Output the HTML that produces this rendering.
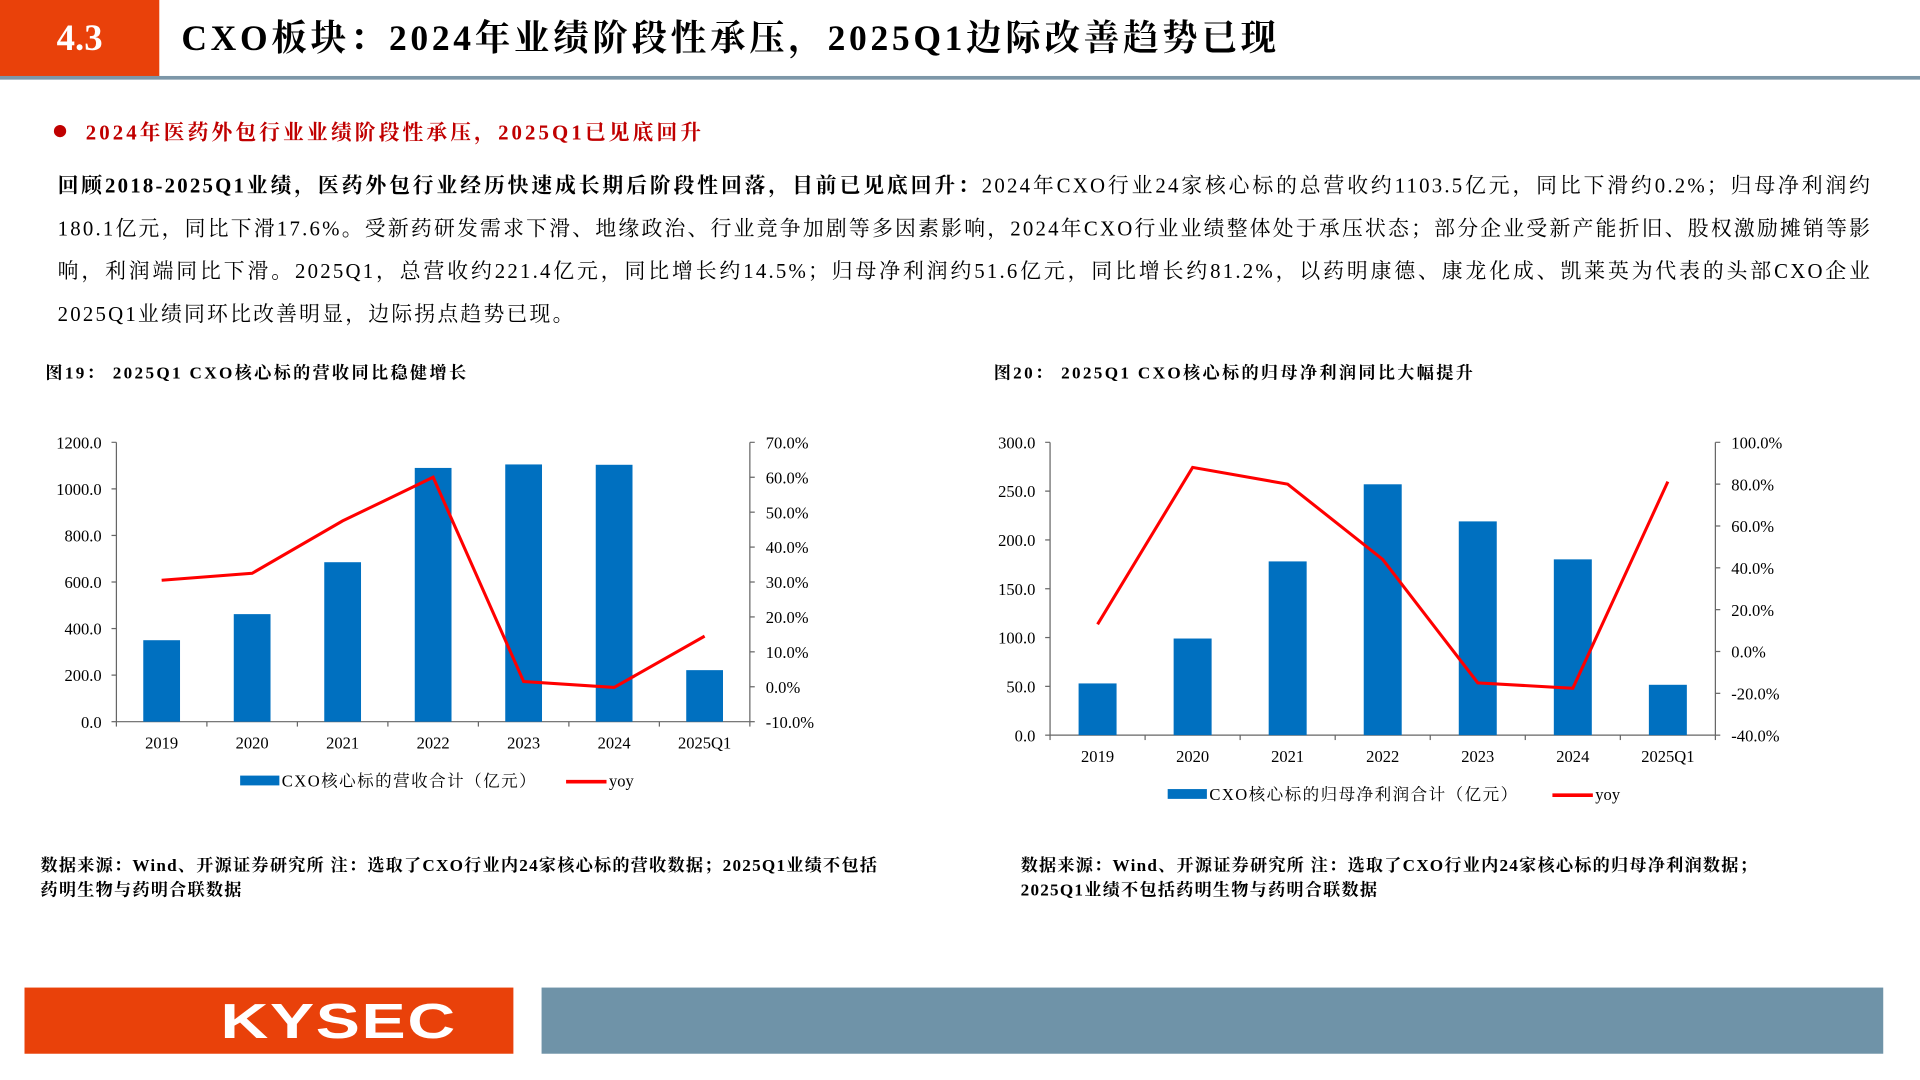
<!DOCTYPE html>
<html><head><meta charset="utf-8">
<style>
html,body{margin:0;padding:0;background:#fff;width:1920px;height:1080px;overflow:hidden}
#wrap{position:absolute;left:0;top:0;width:1567px;height:881px;transform:scale(1.22527);transform-origin:0 0;font-family:"Liberation Serif","Noto Serif CJK SC",serif;color:#000}
.abs{position:absolute}
#hdr-box{left:0;top:0;width:130px;height:63px;background:#e9410a;color:#fff;font-size:30px;font-weight:bold;line-height:63px;text-align:center}
#hdr-title{left:148px;top:12px;font-size:29px;font-weight:bold;white-space:nowrap;line-height:40px;letter-spacing:3px}
#hdr-line{left:0;top:62px;width:1567px;height:3px;background:#7d97a8}
#bullet{left:44px;top:102px;width:10px;height:10px;border-radius:50%;background:#c00000}
#sub{left:70px;top:94px;font-size:17px;font-weight:bold;color:#c00000;white-space:nowrap;letter-spacing:2.5px}
#para{left:47px;top:134px;width:1481px;font-size:17px;line-height:35px;text-align:justify;text-align-last:left;letter-spacing:1.8px}
.ct{font-size:14px;font-weight:bold;white-space:nowrap;letter-spacing:1.9px}
.src{font-size:14px;font-weight:bold;line-height:20px;letter-spacing:1px}
svg text{font-family:"Liberation Serif","Noto Serif CJK SC",serif;font-size:13.5px;fill:#000}
</style></head><body>
<div id="wrap">
<div id="hdr-box" class="abs">4.3</div>
<div id="hdr-title" class="abs">CXO板块：2024年业绩阶段性承压，2025Q1边际改善趋势已现</div>
<div id="hdr-line" class="abs"></div>
<div id="bullet" class="abs"></div>
<div id="sub" class="abs">2024年医药外包行业业绩阶段性承压，2025Q1已见底回升</div>
<div id="para" class="abs"><b>回顾2018-2025Q1业绩，医药外包行业经历快速成长期后阶段性回落，目前已见底回升：</b>2024年CXO行业24家核心标的总营收约1103.5亿元，同比下滑约0.2%；归母净利润约180.1亿元，同比下滑17.6%。受新药研发需求下滑、地缘政治、行业竞争加剧等多因素影响，2024年CXO行业业绩整体处于承压状态；部分企业受新产能折旧、股权激励摊销等影响，利润端同比下滑。2025Q1，总营收约221.4亿元，同比增长约14.5%；归母净利润约51.6亿元，同比增长约81.2%，以药明康德、康龙化成、凯莱英为代表的头部CXO企业2025Q1业绩同环比改善明显，边际拐点趋势已现。</div>
<div class="abs ct" style="left:37px;top:294px">图19：&nbsp;2025Q1 CXO核心标的营收同比稳健增长</div>
<div class="abs ct" style="left:811px;top:294px">图20：&nbsp;2025Q1 CXO核心标的归母净利润同比大幅提升</div>
<svg id="c1" class="abs" style="left:0;top:330px" width="780" height="340"></svg>
<svg id="c2" class="abs" style="left:780px;top:330px" width="787" height="340"></svg>
<div class="abs src" style="left:33px;top:698px;width:745px">数据来源：Wind、开源证券研究所 注：选取了CXO行业内24家核心标的营收数据；2025Q1业绩不包括<br>药明生物与药明合联数据</div>
<div class="abs src" style="left:833px;top:698px;width:700px">数据来源：Wind、开源证券研究所 注：选取了CXO行业内24家核心标的归母净利润数据；<br>2025Q1业绩不包括药明生物与药明合联数据</div>
<div class="abs" style="left:20px;top:806px;width:399px;height:54px;background:#e9410a"><span style="position:absolute;left:160px;top:0;color:#fff;font-family:'Liberation Sans',sans-serif;font-weight:bold;font-size:40px;line-height:56px;letter-spacing:1px;display:inline-block;transform:scaleX(1.35);transform-origin:0 50%">KYSEC</span></div>
<div class="abs" style="left:442px;top:806px;width:1095px;height:54px;background:#6f93a8"></div>
</div>
<script>
const categories=["2019","2020","2021","2022","2023","2024","2025Q1"];
const revenue=[350,462,685,1090,1105,1103.5,221.4];
const revenueYoy=[30.5,32.5,47.5,60,1.5,-0.2,14.5];
const revTicksL=[0,200,400,600,800,1000,1200];
const revTicksR=[-10,0,10,20,30,40,50,60,70];
const profit=[53,99,178,257,219,180.1,51.6];
const profitYoy=[13,88,80,44,-15,-17.6,81.2];
const profTicksL=[0,50,100,150,200,250,300];
const profTicksR=[-40,-20,0,20,40,60,80,100];
const NS='http://www.w3.org/2000/svg';
function mk(svg,tag,attrs){const e=document.createElementNS(NS,tag);for(const k in attrs)e.setAttribute(k,attrs[k]);svg.appendChild(e);return e;}
function draw(id,o){
  const svg=document.getElementById(id);
  const yL=v=>o.y0-(v-o.lmin)/(o.lmax-o.lmin)*(o.y0-o.y1);
  const yR=v=>o.y0-(v-o.rmin)/(o.rmax-o.rmin)*(o.y0-o.y1);
  const step=(o.x1-o.x0)/categories.length;
  const xC=i=>o.x0+step*(i+0.5);
  let a=mk(svg,'line',{x1:o.x0,y1:o.y1,x2:o.x0,y2:o.y0,stroke:'#666'});
  a=mk(svg,'line',{x1:o.x1,y1:o.y1,x2:o.x1,y2:o.y0,stroke:'#666'});
  a=mk(svg,'line',{x1:o.x0,y1:o.y0,x2:o.x1,y2:o.y0,stroke:'#666'});
  o.tl.forEach(v=>{const y=yL(v);mk(svg,'line',{x1:o.x0-4,y1:y,x2:o.x0,y2:y,stroke:'#666'});
    const t=mk(svg,'text',{x:o.x0-12,y:y+5,'text-anchor':'end'});t.textContent=v.toFixed(1);
    });
  o.tr.forEach(v=>{const y=yR(v);mk(svg,'line',{x1:o.x1,y1:y,x2:o.x1+4,y2:y,stroke:'#666'});
    const t=mk(svg,'text',{x:o.x1+13,y:y+5});t.textContent=v.toFixed(1)+'%';
    });
  for(let i=0;i<=categories.length;i++){const x=o.x0+step*i;mk(svg,'line',{x1:x,y1:o.y0,x2:x,y2:o.y0+4,stroke:'#666'});}
  categories.forEach((c,i)=>{
    const v=o.bars[i];const b=mk(svg,'rect',{x:xC(i)-o.bw/2,y:yL(v),width:o.bw,height:o.y0-yL(v),fill:'#0070c0'});
    
    const t=mk(svg,'text',{x:xC(i),y:o.y0+22,'text-anchor':'middle'});t.textContent=c;
    });
  const pts=o.line.map((v,i)=>xC(i)+','+yR(v)).join(' ');
  const l=mk(svg,'polyline',{points:pts,fill:'none',stroke:'#ff0000','stroke-width':2.5});
  
  const lg=o.leg;
  let r=mk(svg,'rect',{x:lg.x,y:lg.y-5,width:32,height:8,fill:'#0070c0'});
  let t=mk(svg,'text',{x:lg.x+34,y:lg.y+4,'letter-spacing':'1.2'});t.textContent=o.label;
  r=mk(svg,'line',{x1:lg.x2,y1:lg.y,x2:lg.x2+33,y2:lg.y,stroke:'#ff0000','stroke-width':3});
  t=mk(svg,'text',{x:lg.x2+35,y:lg.y+4});t.textContent='yoy';
}
draw('c1',{x0:95,x1:612,y0:259,y1:31,lmin:0,lmax:1200,rmin:-10,rmax:70,tl:revTicksL,tr:revTicksR,bars:revenue,line:revenueYoy,bw:30,label:'CXO核心标的营收合计（亿元）',leg:{x:196,y:308,x2:462}});
draw('c2',{x0:77,x1:620,y0:270,y1:31,lmin:0,lmax:300,rmin:-40,rmax:100,tl:profTicksL,tr:profTicksR,bars:profit,line:profitYoy,bw:31,label:'CXO核心标的归母净利润合计（亿元）',leg:{x:173,y:319,x2:487}});
</script>
</body></html>
